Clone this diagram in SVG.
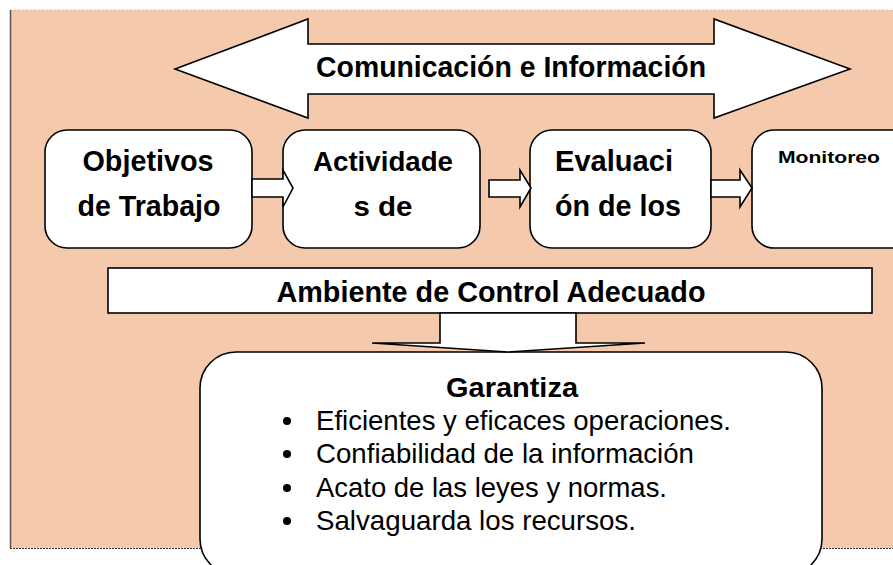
<svg xmlns="http://www.w3.org/2000/svg" width="893" height="565" viewBox="0 0 893 565">
<defs>
<style>
.shape{fill:#fff;stroke:#000;stroke-width:1.6;stroke-linejoin:miter}
.b{font-family:"Liberation Sans",Arial,sans-serif;font-weight:bold;fill:#000}
.r{font-family:"Liberation Sans",Arial,sans-serif;fill:#000}
</style>
</defs>
<rect x="0" y="0" width="893" height="565" fill="#fff"/>
<g id="background">
<rect x="10" y="10" width="883" height="538" fill="#F5C9AC"/>
<line x1="10" y1="10" x2="893" y2="10" stroke="#ccc" stroke-width="1" stroke-dasharray="2,2"/>
<line x1="10.5" y1="10" x2="10.5" y2="548" stroke="#555" stroke-width="1.5"/>
<line x1="10" y1="548.5" x2="893" y2="548.5" stroke="#333" stroke-width="1" stroke-dasharray="2,1"/>
</g>
<g id="comunicacion">
<polygon class="shape" points="175,69 308,19 308,44 714,44 714,19 850,69 714,118 714,94 308,94 308,118"/>
<text class="b" x="511" y="77" font-size="29" text-anchor="middle" textLength="390" lengthAdjust="spacingAndGlyphs">Comunicación e Información</text>
</g>
<g id="objetivos">
<rect class="shape" x="45" y="130" width="207" height="118" rx="22"/>
<text class="b" x="148" y="171" font-size="29" text-anchor="middle" textLength="131" lengthAdjust="spacingAndGlyphs">Objetivos</text>
<text class="b" x="149" y="216" font-size="29" text-anchor="middle" textLength="143" lengthAdjust="spacingAndGlyphs">de Trabajo</text>
</g>
<g id="actividades">
<rect class="shape" x="283" y="130" width="197" height="118" rx="22"/>
<text class="b" x="383" y="171" font-size="28" text-anchor="middle" textLength="140" lengthAdjust="spacingAndGlyphs">Actividade</text>
<text class="b" x="383" y="216" font-size="28" text-anchor="middle" textLength="59" lengthAdjust="spacingAndGlyphs">s de</text>
</g>
<g id="evaluacion">
<rect class="shape" x="530" y="130" width="181" height="118" rx="22"/>
<text class="b" x="555" y="171" font-size="29" textLength="118" lengthAdjust="spacingAndGlyphs">Evaluaci</text>
<text class="b" x="555" y="216" font-size="29" textLength="126" lengthAdjust="spacingAndGlyphs">ón de los</text>
</g>
<g id="monitoreo">
<rect class="shape" x="752" y="130" width="170" height="118" rx="22"/>
<text class="b" x="778" y="163" font-size="16" textLength="102" lengthAdjust="spacingAndGlyphs">Monitoreo</text>
</g>
<g id="ambiente">
<rect class="shape" x="108" y="268" width="764" height="45"/>
<text class="b" x="491" y="302" font-size="29" text-anchor="middle" textLength="429" lengthAdjust="spacingAndGlyphs">Ambiente de Control Adecuado</text>
</g>
<g id="garantiza">
<rect class="shape" x="200" y="352" width="622" height="223" rx="36"/>
<text class="b" x="512" y="397" font-size="28" text-anchor="middle" textLength="132" lengthAdjust="spacingAndGlyphs">Garantiza</text>
<circle cx="287" cy="421" r="4"/>
<circle cx="287" cy="454" r="4"/>
<circle cx="287" cy="488" r="4"/>
<circle cx="287" cy="521" r="4"/>
<text class="r" x="316" y="430" font-size="28" textLength="415" lengthAdjust="spacingAndGlyphs">Eficientes y eficaces operaciones.</text>
<text class="r" x="316" y="463" font-size="28" textLength="378" lengthAdjust="spacingAndGlyphs">Confiabilidad de la información</text>
<text class="r" x="316" y="497" font-size="28" textLength="351" lengthAdjust="spacingAndGlyphs">Acato de las leyes y normas.</text>
<text class="r" x="316" y="530" font-size="28" textLength="320" lengthAdjust="spacingAndGlyphs">Salvaguarda los recursos.</text>
</g>
<g id="connectors">
<polygon class="shape" points="252,179 283,179 283,170 293,188 283,207 283,197 252,197"/>
<polygon class="shape" points="489,180 520,180 520,170 531,188 520,207 520,197 489,197"/>
<polygon class="shape" points="711,180 740,180 740,170 752,188 740,207 740,197 711,197"/>
<polygon class="shape" points="440,313 576,313 576,343 645,343 508,352 372,343 440,343"/>
</g>
</svg>
